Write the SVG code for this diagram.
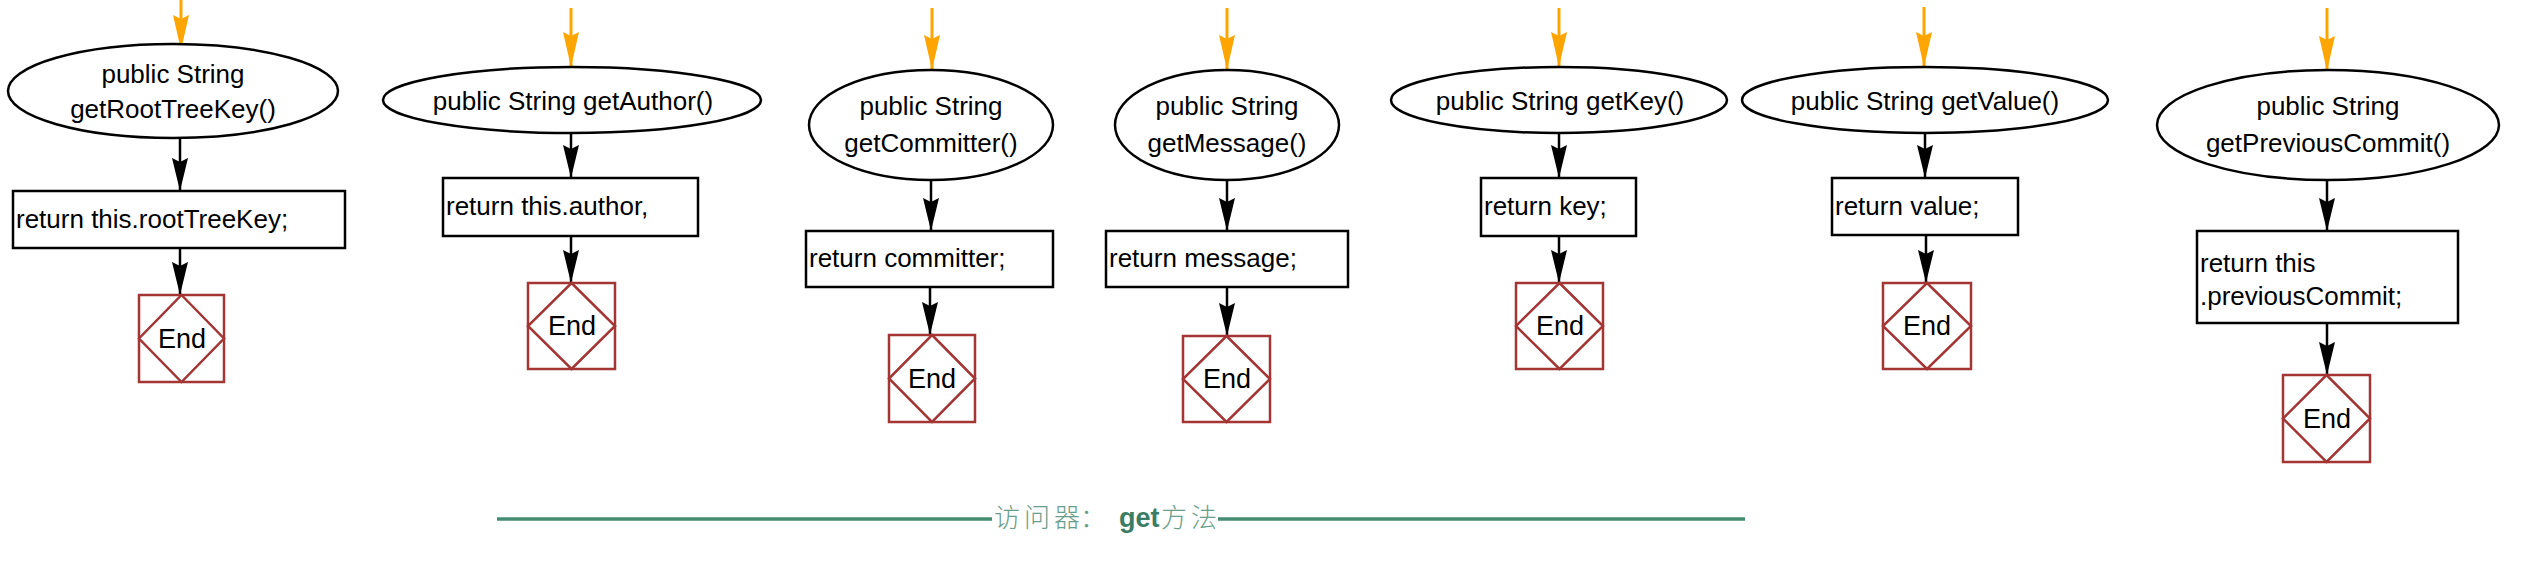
<svg xmlns="http://www.w3.org/2000/svg" width="2525" height="583" viewBox="0 0 2525 583">
<style>
.bg{fill:#ffffff}
.ell{fill:#ffffff;stroke:#000000;stroke-width:2.5}
.box{fill:#ffffff;stroke:#000000;stroke-width:2.5}
.endbox{fill:#ffffff;stroke:#a33535;stroke-width:2.5}
.t{font-family:"Liberation Sans",Arial,sans-serif;font-size:26px;fill:#000000}
.c{text-anchor:middle}
.te{font-family:"Liberation Sans",Arial,sans-serif;font-size:27px;fill:#000000;text-anchor:middle}
.blk{stroke:#000000;stroke-width:2.5;fill:none}
.org{stroke:#ffa500;stroke-width:3;fill:none}
.cap{stroke:#468c72;stroke-width:3.5;fill:none}
.cj{font-family:"Noto Sans CJK SC","Liberation Sans",sans-serif;font-size:26px;font-weight:300;fill:#6a9e8c}
.gt{font-family:"Liberation Sans",Arial,sans-serif;font-size:27px;font-weight:bold;fill:#3a7c64}
</style>
<defs>
<marker id="ab" viewBox="0 0 33 16" refX="33" refY="8" markerWidth="33" markerHeight="16" markerUnits="userSpaceOnUse" orient="auto">
<path d="M0,0 L33,8 L0,16 L4,8 z" fill="#000000"/>
</marker>
<marker id="ao" viewBox="0 0 35 16" refX="35" refY="8" markerWidth="35" markerHeight="16" markerUnits="userSpaceOnUse" orient="auto">
<path d="M0,0 L35,8 L0,16 L4,8 z" fill="#ffa500"/>
</marker>
</defs>
<rect class="bg" x="0" y="0" width="2525" height="583"/>

<g id="connectors">
<line class="org" x1="181" y1="0" x2="181" y2="50" marker-end="url(#ao)"/>
<line class="blk" x1="180" y1="138" x2="180" y2="191" marker-end="url(#ab)"/>
<line class="blk" x1="180" y1="248" x2="180" y2="295" marker-end="url(#ab)"/>

<line class="org" x1="571" y1="8" x2="571" y2="67" marker-end="url(#ao)"/>
<line class="blk" x1="571" y1="132" x2="571" y2="178" marker-end="url(#ab)"/>
<line class="blk" x1="571" y1="236" x2="571" y2="283" marker-end="url(#ab)"/>

<line class="org" x1="932" y1="8" x2="932" y2="70" marker-end="url(#ao)"/>
<line class="blk" x1="931" y1="180" x2="931" y2="231" marker-end="url(#ab)"/>
<line class="blk" x1="930" y1="287" x2="930" y2="335" marker-end="url(#ab)"/>

<line class="org" x1="1227" y1="8" x2="1227" y2="70" marker-end="url(#ao)"/>
<line class="blk" x1="1227" y1="180" x2="1227" y2="231" marker-end="url(#ab)"/>
<line class="blk" x1="1227" y1="287" x2="1227" y2="336" marker-end="url(#ab)"/>

<line class="org" x1="1559" y1="8" x2="1559" y2="67" marker-end="url(#ao)"/>
<line class="blk" x1="1559" y1="132" x2="1559" y2="178" marker-end="url(#ab)"/>
<line class="blk" x1="1559" y1="236" x2="1559" y2="283" marker-end="url(#ab)"/>

<line class="org" x1="1924" y1="7" x2="1924" y2="67" marker-end="url(#ao)"/>
<line class="blk" x1="1925" y1="132" x2="1925" y2="178" marker-end="url(#ab)"/>
<line class="blk" x1="1926" y1="235" x2="1926" y2="283" marker-end="url(#ab)"/>

<line class="org" x1="2327" y1="8" x2="2327" y2="71" marker-end="url(#ao)"/>
<line class="blk" x1="2327" y1="180" x2="2327" y2="231" marker-end="url(#ab)"/>
<line class="blk" x1="2327" y1="323" x2="2327" y2="375" marker-end="url(#ab)"/>
</g>

<g id="n1-start">
<ellipse class="ell" cx="173" cy="91" rx="165" ry="47"/>
<text class="t c" x="173" y="83">public String</text>
<text class="t c" x="173" y="118">getRootTreeKey()</text>
</g>
<g id="n1-body">
<rect class="box" x="13" y="191" width="332" height="57"/>
<text class="t" x="16" y="228">return this.rootTreeKey;</text>
</g>
<g id="n1-end">
<rect class="endbox" x="139" y="295" width="85" height="87"/>
<polygon class="endbox" points="181.5,295 224,338.5 181.5,382 139,338.5"/>
<text class="te" x="182" y="348">End</text>
</g>

<g id="n2-start">
<ellipse class="ell" cx="572" cy="100" rx="189" ry="33"/>
<text class="t c" x="573" y="110">public String getAuthor()</text>
</g>
<g id="n2-body">
<rect class="box" x="443" y="178" width="255" height="58"/>
<text class="t" x="446" y="215">return this.author,</text>
</g>
<g id="n2-end">
<rect class="endbox" x="528" y="283" width="87" height="86"/>
<polygon class="endbox" points="571.5,283 615,326 571.5,369 528,326"/>
<text class="te" x="572" y="335">End</text>
</g>

<g id="n3-start">
<ellipse class="ell" cx="931" cy="125" rx="122" ry="55"/>
<text class="t c" x="931" y="115">public String</text>
<text class="t c" x="931" y="152">getCommitter()</text>
</g>
<g id="n3-body">
<rect class="box" x="806" y="231" width="247" height="56"/>
<text class="t" x="809" y="267">return committer;</text>
</g>
<g id="n3-end">
<rect class="endbox" x="889" y="335" width="86" height="87"/>
<polygon class="endbox" points="932,335 975,378.5 932,422 889,378.5"/>
<text class="te" x="932" y="388">End</text>
</g>

<g id="n4-start">
<ellipse class="ell" cx="1227" cy="125" rx="112" ry="55"/>
<text class="t c" x="1227" y="115">public String</text>
<text class="t c" x="1227" y="152">getMessage()</text>
</g>
<g id="n4-body">
<rect class="box" x="1106" y="231" width="242" height="56"/>
<text class="t" x="1109" y="267">return message;</text>
</g>
<g id="n4-end">
<rect class="endbox" x="1183" y="336" width="87" height="86"/>
<polygon class="endbox" points="1226.5,336 1270,379 1226.5,422 1183,379"/>
<text class="te" x="1227" y="388">End</text>
</g>

<g id="n5-start">
<ellipse class="ell" cx="1559" cy="100" rx="168" ry="33"/>
<text class="t c" x="1560" y="110">public String getKey()</text>
</g>
<g id="n5-body">
<rect class="box" x="1481" y="178" width="155" height="58"/>
<text class="t" x="1484" y="215">return key;</text>
</g>
<g id="n5-end">
<rect class="endbox" x="1516" y="283" width="87" height="86"/>
<polygon class="endbox" points="1559.5,283 1603,326 1559.5,369 1516,326"/>
<text class="te" x="1560" y="335">End</text>
</g>

<g id="n6-start">
<ellipse class="ell" cx="1925" cy="100" rx="183" ry="33"/>
<text class="t c" x="1925" y="110">public String getValue()</text>
</g>
<g id="n6-body">
<rect class="box" x="1832" y="178" width="186" height="57"/>
<text class="t" x="1835" y="215">return value;</text>
</g>
<g id="n6-end">
<rect class="endbox" x="1883" y="283" width="88" height="86"/>
<polygon class="endbox" points="1927,283 1971,326 1927,369 1883,326"/>
<text class="te" x="1927" y="335">End</text>
</g>

<g id="n7-start">
<ellipse class="ell" cx="2328" cy="125" rx="171" ry="55"/>
<text class="t c" x="2328" y="115">public String</text>
<text class="t c" x="2328" y="152">getPreviousCommit()</text>
</g>
<g id="n7-body">
<rect class="box" x="2197" y="231" width="261" height="92"/>
<text class="t" x="2200" y="272">return this</text>
<text class="t" x="2200" y="305">.previousCommit;</text>
</g>
<g id="n7-end">
<rect class="endbox" x="2283" y="375" width="87" height="87"/>
<polygon class="endbox" points="2326.5,375 2370,418.5 2326.5,462 2283,418.5"/>
<text class="te" x="2327" y="428">End</text>
</g>

<g id="caption">
<line class="cap" x1="497" y1="519" x2="992" y2="519"/>
<line class="cap" x1="1218" y1="519" x2="1745" y2="519"/>
<text class="cj" y="527"><tspan x="994">访</tspan><tspan x="1024">问</tspan><tspan x="1054">器</tspan><tspan x="1080">：</tspan><tspan class="gt" x="1119">get</tspan><tspan x="1161">方</tspan><tspan x="1191">法</tspan></text>
</g>
</svg>
